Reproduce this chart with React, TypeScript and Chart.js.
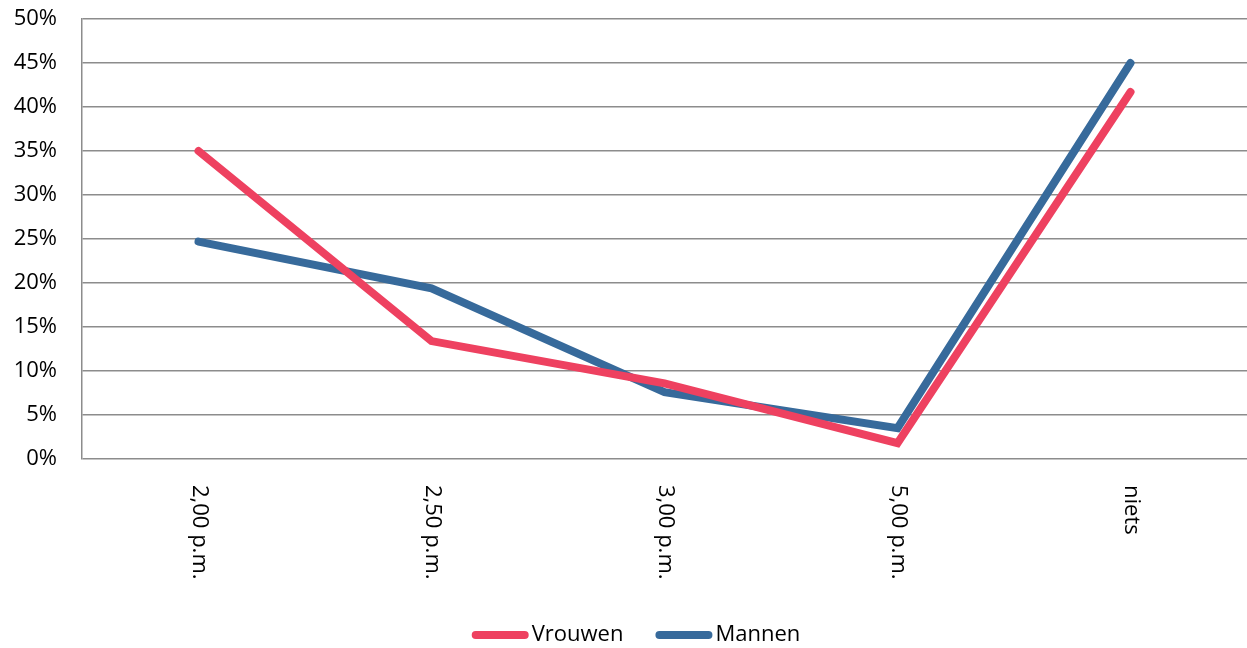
import React, { useEffect, useRef } from "react";
import { Chart, registerables } from "chart.js";

Chart.register(...registerables);

const categories = ["2,00 p.m.", "2,50 p.m.", "3,00 p.m.", "5,00 p.m.", "niets"];
const vrouwen = [35.0, 13.4, 8.6, 1.8, 41.7];
const mannen = [24.7, 19.4, 7.6, 3.5, 45.0];
const yTicks = [0, 5, 10, 15, 20, 25, 30, 35, 40, 45, 50];
const seriesNames = ["Vrouwen", "Mannen"];
const seriesColors = ["#EE4160", "#376A9B"];

const FONT = "'Open Sans', sans-serif";
const FONT_SIZE = 22;

const rotatedLabels = {
  id: "rotatedLabels",
  afterDraw(chart: any) {
    const ctx = chart.ctx;
    const xs = chart.scales.x;
    ctx.save();
    ctx.fillStyle = "#000000";
    ctx.font = `${FONT_SIZE}px ${FONT}`;
    ctx.textAlign = "left";
    ctx.textBaseline = "middle";
    categories.forEach((lab, i) => {
      const x = xs.getPixelForTick(i);
      ctx.save();
      ctx.translate(x + 1, chart.chartArea.bottom + 26);
      ctx.rotate(Math.PI / 2);
      ctx.fillText(lab, 0, 0);
      ctx.restore();
    });
    ctx.restore();
  },
};

const customLegend = {
  id: "customLegend",
  afterDraw(chart: any) {
    const ctx = chart.ctx;
    ctx.save();
    ctx.font = `${FONT_SIZE}px ${FONT}`;
    ctx.textBaseline = "middle";
    ctx.textAlign = "left";
    const lineLen = 49;
    const cap = 4;
    const gapText = 7;
    const gapItem = 28;
    const widths = seriesNames.map((n) => lineLen + 2 * cap + gapText + ctx.measureText(n).width);
    const total = widths.reduce((a, b) => a + b, 0) + gapItem * (seriesNames.length - 1);
    let x = 638 - total / 2;
    const y = 635;
    seriesNames.forEach((n, i) => {
      ctx.strokeStyle = seriesColors[i];
      ctx.lineWidth = 8;
      ctx.lineCap = "round";
      ctx.beginPath();
      ctx.moveTo(x + cap, y);
      ctx.lineTo(x + cap + lineLen, y);
      ctx.stroke();
      ctx.fillStyle = "#000000";
      ctx.fillText(n, x + lineLen + 2 * cap + gapText - 4, y);
      x += widths[i] + gapItem;
    });
    ctx.restore();
  },
};

export default function App() {
  const ref = useRef<HTMLCanvasElement | null>(null);
  useEffect(() => {
    if (!ref.current) return;
    const chart = new Chart(ref.current, {
      type: "line",
      data: {
        labels: categories,
        datasets: [
          {
            label: seriesNames[0],
            data: vrouwen,
            borderColor: seriesColors[0],
            backgroundColor: seriesColors[0],
            borderWidth: 8,
            borderCapStyle: "round",
            borderJoinStyle: "miter",
            pointRadius: 0,
            tension: 0,
          },
          {
            label: seriesNames[1],
            data: mannen,
            borderColor: seriesColors[1],
            backgroundColor: seriesColors[1],
            borderWidth: 8,
            borderCapStyle: "round",
            borderJoinStyle: "miter",
            pointRadius: 0,
            tension: 0,
          },
        ],
      },
      options: {
        responsive: false,
        animation: false,
        maintainAspectRatio: false,
        layout: { padding: { top: 19, right: 0, left: 0, bottom: 0 } },
        plugins: {
          tooltip: { enabled: false },
          legend: { display: false },
        },
        scales: {
          x: {
            offset: true,
            grid: { display: false, drawTicks: false },
            border: { display: false },
            ticks: { display: false },
            afterFit: (s: any) => {
              s.height = 189;
              s.paddingLeft = 0;
              s.paddingRight = 0;
            },
          },
          y: {
            min: 0,
            max: 50,
            afterBuildTicks: (s: any) => {
              s.ticks = yTicks.map((v) => ({ value: v }));
            },
            grid: { color: "#8C8C8C", lineWidth: 1.5, drawTicks: false },
            border: { display: true, color: "#8C8C8C", width: 1.5 },
            ticks: {
              padding: 25,
              color: "#000000",
              font: { family: FONT, size: FONT_SIZE },
              callback: (v: any) => `${v}%`,
            },
            afterFit: (s: any) => {
              s.width = 82;
              s.paddingTop = 0;
              s.paddingBottom = 0;
            },
          },
        },
      },
      plugins: [rotatedLabels, customLegend],
    });
    return () => chart.destroy();
  }, []);
  return (
    <div style={{ position: "fixed", left: 0, top: 0, width: 1247, height: 648, background: "#fff" }}>
      <canvas ref={ref} width={1247} height={648} style={{ display: "block" }} />
    </div>
  );
}
